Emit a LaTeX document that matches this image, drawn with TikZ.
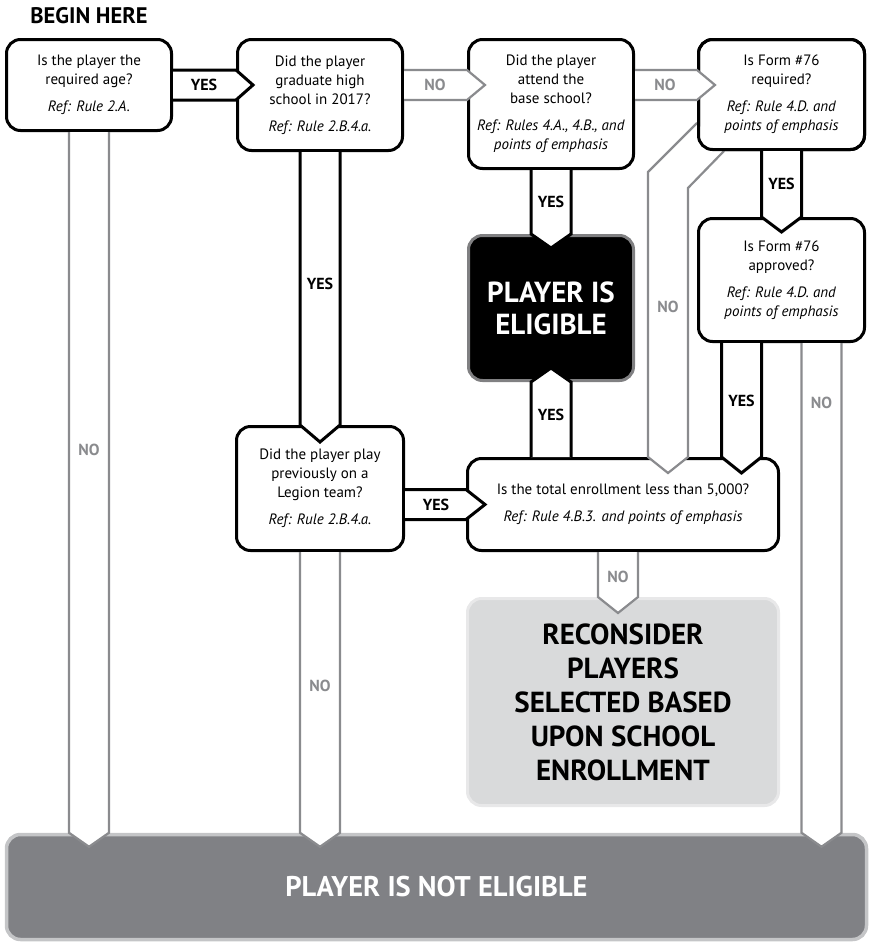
\documentclass[tikz,border=0pt]{standalone}
\usepackage{fontspec}
\setmainfont{PT Sans}
\usetikzlibrary{calc}

\definecolor{nogray}{RGB}{138,139,142}
\definecolor{eligedge}{RGB}{128,128,130}
\definecolor{reconfill}{RGB}{217,218,219}
\definecolor{reconedge}{RGB}{232,232,233}
\definecolor{notfill}{RGB}{128,129,133}
\definecolor{notedge}{RGB}{196,197,199}

\newcommand{\qfont}{\fontsize{15}{19}\selectfont}
\newcommand{\lblfont}{\fontsize{16}{18}\selectfont\bfseries}

\tikzset{
    qbox/.style={draw, line width=3pt, fill=white, rounded corners=14pt, align=center, font=\qfont, inner sep=0pt},
    yesarrow/.style={draw=black, line width=3pt, fill=white},
    noarrow/.style={draw=nogray, line width=2.2pt, fill=white},
    yeslbl/.style={font=\lblfont},
    nolbl/.style={font=\lblfont, text=nogray}
}

\begin{document}
\begin{tikzpicture}[x=1pt, y=-1pt]
\useasboundingbox (0,0) rectangle (870,943);

\node[font=\fontsize{22.5}{24}\selectfont\bfseries] (begin) at (89,16) {BEGIN HERE};

% question boxes
\node[qbox, minimum width=165pt, minimum height=91pt] (b1) at (89,85)
    {Is the player the\\required age?\\[8pt]\textit{Ref: Rule 2.A.}};
\node[qbox, minimum width=165pt, minimum height=111pt] (b2) at (320,95)
    {Did the player\\graduate high\\school in 2017?\\[8pt]\textit{Ref: Rule 2.B.4.a.}};
\node[qbox, minimum width=165pt, minimum height=129pt] (b3) at (551,104)
    {Did the player\\attend the\\base school?\\[8pt]\textit{Ref: Rules 4.A., 4.B., and}\\\textit{points of emphasis}};
\node[qbox, minimum width=166pt, minimum height=110pt] (b4) at (781.5,94.5)
    {Is Form \#76\\required?\\[8pt]\textit{Ref: Rule 4.D. and}\\\textit{points of emphasis}};
\node[qbox, minimum width=166pt, minimum height=123pt] (b5) at (781.5,280)
    {Is Form \#76\\approved?\\[8pt]\textit{Ref: Rule 4.D. and}\\\textit{points of emphasis}};
\node[qbox, minimum width=167pt, minimum height=124pt] (b6) at (320,488.5)
    {Did the player play\\previously on a\\Legion team?\\[8pt]\textit{Ref: Rule 2.B.4.a.}};
\node[qbox, minimum width=311pt, minimum height=92pt] (b7) at (623,504.5)
    {Is the total enrollment less than 5,000?\\[8pt]\textit{Ref: Rule 4.B.3. and points of emphasis}};

% outcome boxes
\node[qbox, draw=eligedge, fill=black, text=white, minimum width=165pt, minimum height=145pt,
      font=\fontsize{29}{32}\selectfont\bfseries] (elig) at (551,308) {PLAYER IS\\ELIGIBLE};
\node[qbox, draw=reconedge, fill=reconfill, minimum width=311pt, minimum height=207pt,
      font=\fontsize{29}{34}\selectfont\bfseries] (recon) at (623,702)
    {RECONSIDER\\PLAYERS\\SELECTED BASED\\UPON SCHOOL\\ENROLLMENT};
\node[qbox, draw=notedge, line width=3.5pt, fill=notfill, text=white, minimum width=860pt, minimum height=105pt,
      font=\fontsize{28.5}{30}\selectfont\bfseries] (notelig) at (436.5,887) {PLAYER IS NOT ELIGIBLE};

% bent NO arrow out of the corner of b4
\filldraw[noarrow] ($(b4.west)+(0,28.5)$) -- ++(-49,49) -- ($(b7.north)+(25,0)$) -- ($(b7.north)+(45,16)$)
    -- ($(b7.north)+(65,0)$) -- ++(0,-269) -- ($(b4.south)+(-57.5,0)$);
\node[qbox, fill=none, minimum width=166pt, minimum height=110pt] (b4edge) at (b4) {};

% horizontal arrows
\filldraw[yesarrow] ($(b1.east)+(0,-15)$) -- ($(b2.west)+(0,-25)$) -- ($(b2.west)+(17,-10)$)
    -- ($(b2.west)+(0,5)$) -- ($(b1.east)+(0,15)$);
\filldraw[noarrow] ($(b2.east)+(0,-25)$) -- ($(b3.west)+(0,-34)$) -- ($(b3.west)+(18,-19)$)
    -- ($(b3.west)+(0,-4)$) -- ($(b2.east)+(0,5)$);
\filldraw[noarrow] ($(b3.east)+(0,-34)$) -- ($(b4.west)+(0,-24.5)$) -- ($(b4.west)+(18,-9.5)$)
    -- ($(b4.west)+(0,5.5)$) -- ($(b3.east)+(0,-4)$);
\filldraw[yesarrow] ($(b6.east)+(0,1)$) -- ($(b7.west)+(0,-15)$) -- ($(b7.west)+(19,0)$)
    -- ($(b7.west)+(0,15)$) -- ($(b6.east)+(0,31)$);

% vertical arrows
\filldraw[yesarrow] ($(b4.south)+(-20,0)$) -- ($(b5.north)+(-20,0)$) -- ($(b5.north)+(0,15)$)
    -- ($(b5.north)+(20,0)$) -- ($(b4.south)+(20,0)$);
\filldraw[yesarrow] ($(b2.south)+(-20,0)$) -- ($(b6.north)+(-20,0)$) -- ($(b6.north)+(0,17)$)
    -- ($(b6.north)+(20,0)$) -- ($(b2.south)+(20,0)$);
\filldraw[yesarrow] ($(b3.south)+(-20,0)$) -- ($(elig.north)+(-20,0)$) -- ($(elig.north)+(0,14)$)
    -- ($(elig.north)+(20,0)$) -- ($(b3.south)+(20,0)$);
\filldraw[yesarrow] ($(b7.north)+(-92,0)$) -- ($(elig.south)+(-20,0)$) -- ($(elig.south)+(0,-14)$)
    -- ($(elig.south)+(20,0)$) -- ($(b7.north)+(-52,0)$);
\filldraw[yesarrow] ($(b5.south)+(-60,0)$) -- ($(b7.north)+(98.5,0)$) -- ($(b7.north)+(118.5,16)$)
    -- ($(b7.north)+(138.5,0)$) -- ($(b5.south)+(-20,0)$);
\filldraw[noarrow] ($(b7.south)+(-25,0)$) -- ($(recon.north)+(-25,0)$) -- ($(recon.north)+(-5,16)$)
    -- ($(recon.north)+(15,0)$) -- ($(b7.south)+(15,0)$);
\filldraw[noarrow] ($(b1.south)+(-20,0)$) -- ($(notelig.north)+(-367.5,0)$) -- ($(notelig.north)+(-347.5,14)$)
    -- ($(notelig.north)+(-327.5,0)$) -- ($(b1.south)+(20,0)$);
\filldraw[noarrow] ($(b6.south)+(-20,0)$) -- ($(notelig.north)+(-136.5,0)$) -- ($(notelig.north)+(-116.5,14)$)
    -- ($(notelig.north)+(-96.5,0)$) -- ($(b6.south)+(20,0)$);
\filldraw[noarrow] ($(b5.south)+(20,0)$) -- ($(notelig.north)+(365,0)$) -- ($(notelig.north)+(385,14)$)
    -- ($(notelig.north)+(405,0)$) -- ($(b5.south)+(60,0)$);

% arrow labels
\node[yeslbl] (l1) at ($(b1.east)+(31,0)$) {YES};
\node[nolbl] (l2) at ($(b2.east)+(31,-10)$) {NO};
\node[nolbl] (l3) at ($(b3.east)+(30,-19)$) {NO};
\node[yeslbl] (l4) at ($(b6.east)+(31,16)$) {YES};
\node[yeslbl] (l5) at ($(b4.south)!.5!(b5.north)$) {YES};
\node[yeslbl] (l6) at ($(b2.south)+(0,132)$) {YES};
\node[yeslbl] (l7) at ($(b3.south)!.5!(elig.north)$) {YES};
\node[yeslbl] (l8) at ($(elig.south)+(0,33)$) {YES};
\node[yeslbl] (l9) at ($(b5.south)+(-40,58)$) {YES};
\node[nolbl] (l10) at ($(b5.south)+(40,60)$) {NO};
\node[nolbl] (l11) at ($(b1.south)+(0,318)$) {NO};
\node[nolbl] (l12) at ($(b6.south)+(0,134)$) {NO};
\node[nolbl] (l13) at ($(b7.south)+(-5,25)$) {NO};
\node[nolbl] (l14) at ($(b7.north)+(45,-150)$) {NO};
\end{tikzpicture}
\end{document}
